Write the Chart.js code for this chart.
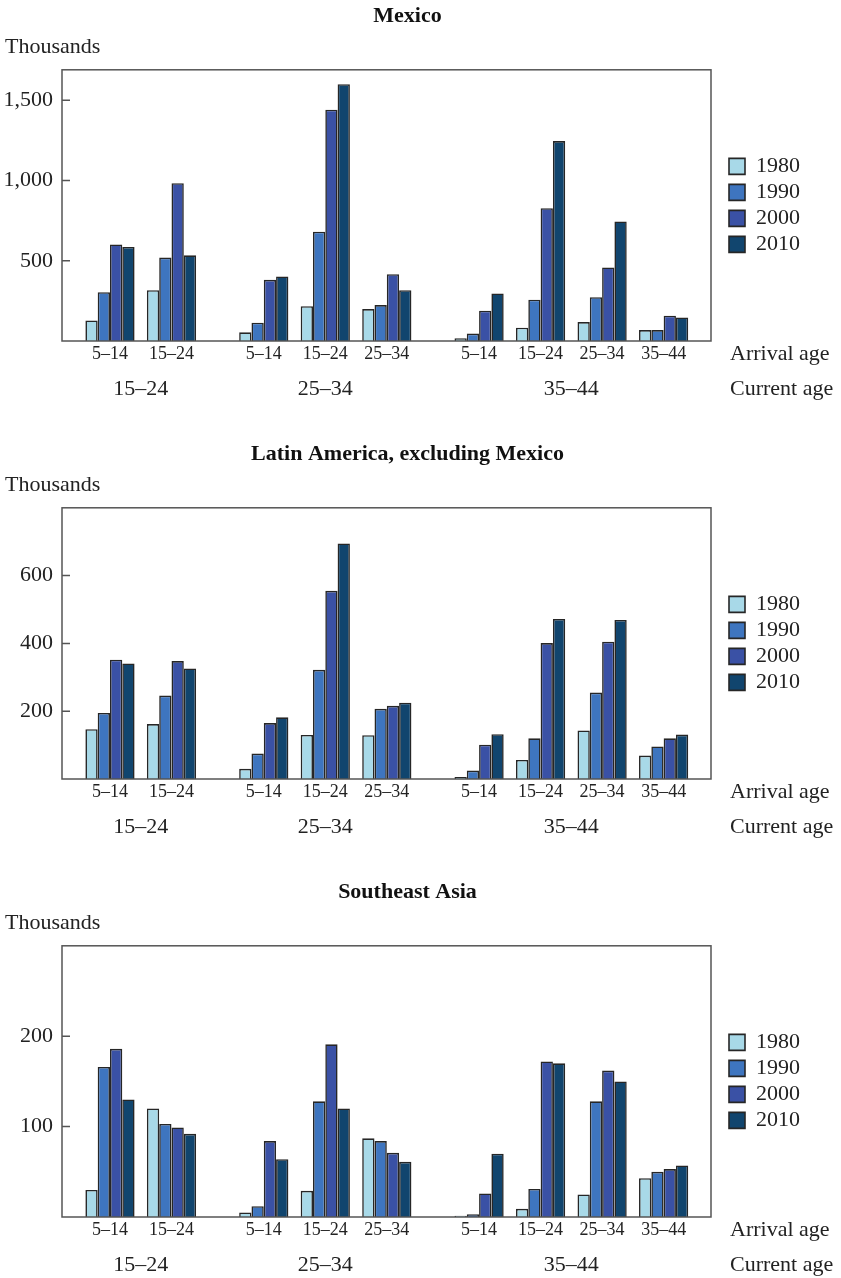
<!DOCTYPE html>
<html>
<head>
<meta charset="utf-8">
<script src="https://cdn.jsdelivr.net/npm/chart.js@4.4.1/dist/chart.umd.min.js"></script>
<style>
  body { margin: 0; background: #fff; }
  .panel { position: absolute; left: 0; width: 841px; height: 402px; }
</style>
</head>
<body>
<div class="panel" style="top:0"><canvas id="mexico"></canvas></div>
<div class="panel" style="top:438px"><canvas id="latam"></canvas></div>
<div class="panel" style="top:876px"><canvas id="asia"></canvas></div>
<script>
// categories
const years = ["1980", "1990", "2000", "2010"];
const arrivalAge = ["5–14", "15–24", "5–14", "15–24", "25–34", "5–14", "15–24", "25–34", "35–44"];
const currentAge = ["15–24", "25–34", "35–44"];

// slot layout on the x scale (groups are separated by half a slot)
const arrivalSlot = [0, 1, 2.5, 3.5, 4.5, 6, 7, 8, 9];
const currentSlot = [0.5, 3.5, 7.5];

// values, thousands
const mexico1980 = [128, 317, 54, 217, 199, 17, 83, 118, 68];
const mexico1990 = [304, 520, 114, 681, 224, 46, 257, 273, 68];
const mexico2000 = [602, 983, 381, 1441, 416, 189, 828, 458, 158];
const mexico2010 = [586, 534, 402, 1600, 317, 296, 1246, 745, 147];
const mexicoTicks = [500, 1000, 1500];

const latam1980 = [147, 162, 30, 130, 129, 6, 56, 143, 69];
const latam1990 = [195, 246, 75, 322, 207, 25, 120, 255, 96];
const latam2000 = [352, 348, 165, 555, 216, 101, 401, 405, 120];
const latam2010 = [341, 326, 182, 695, 225, 132, 472, 469, 131];
const latamTicks = [200, 400, 600];

const asia1980 = [30, 120, 5, 29, 87, 1.5, 9, 25, 43];
const asia1990 = [166, 103, 12, 128, 84, 3, 31, 128, 50];
const asia2000 = [186, 99, 84, 191, 71, 26, 172, 162, 53];
const asia2010 = [130, 92, 64, 120, 61, 70, 170, 150, 57];
const asiaTicks = [100, 200];

const colors = ["#a8d9e8", "#3e75bf", "#3a51a5", "#11456e"];

Chart.defaults.font.family = "'Liberation Serif', 'Times New Roman', serif";
Chart.defaults.color = "#222";

// box round the plot, inward y ticks, row captions on the right
const frame = {
  id: "frame",
  afterDraw(chart) {
    const { ctx, chartArea: a } = chart;
    const y = chart.scales.y;
    ctx.save();
    ctx.strokeStyle = "#555";
    ctx.lineWidth = 1.5;
    ctx.strokeRect(a.left, a.top, a.right - a.left, a.bottom - a.top);
    ctx.beginPath();
    y.ticks.forEach(t => {
      const py = y.getPixelForValue(t.value);
      ctx.moveTo(a.left, py);
      ctx.lineTo(a.left + 8, py);
    });
    ctx.stroke();
    ctx.fillStyle = "#222";
    ctx.font = "22px 'Liberation Serif'";
    ctx.textBaseline = "middle";
    ctx.fillText("Arrival age", a.right + 19, a.bottom + 13);
    ctx.fillText("Current age", a.right + 19, a.bottom + 48);
    ctx.restore();
  }
};

function makeChart(id, title, series, yMax, yTicks) {
  return new Chart(document.getElementById(id), {
    type: "bar",
    data: {
      datasets: series.map((vals, k) => ({
        label: years[k],
        data: vals.map((v, i) => ({ x: arrivalSlot[i], y: v })),
        backgroundColor: colors[k],
        borderColor: "#262626",
        borderWidth: 1.6,
        categoryPercentage: 0.8,
        barPercentage: 1,
        xAxisID: "x",
        yAxisID: "y"
      }))
    },
    options: {
      responsive: true,
      maintainAspectRatio: false,
      animation: false,
      layout: { padding: { left: 5, right: 31, top: 0, bottom: 0 } },
      plugins: {
        title: {
          display: true,
          text: title,
          color: "#111",
          font: { size: 22, weight: "bold" },
          padding: { top: 3, bottom: 4 }
        },
        subtitle: {
          display: true,
          text: "Thousands",
          align: "start",
          color: "#222",
          font: { size: 22 },
          padding: { top: 1, bottom: 9 }
        },
        legend: {
          position: "right",
          fullSize: false,
          labels: { boxWidth: 16, boxHeight: 16, padding: 4, font: { size: 22 }, color: "#222" }
        },
        tooltip: { enabled: false }
      },
      scales: {
        x: {
          type: "linear",
          min: -0.78,
          max: 9.77,
          offset: false,
          weight: 1,
          grid: { display: false, drawTicks: false },
          border: { display: false },
          afterBuildTicks: s => { s.ticks = arrivalSlot.map(v => ({ value: v })); },
          afterFit: s => { s.height = 24; },
          ticks: {
            autoSkip: false,
            maxRotation: 0,
            padding: 2,
            font: { size: 18 },
            callback: (v, i) => arrivalAge[i]
          }
        },
        x2: {
          type: "linear",
          position: "bottom",
          min: -0.78,
          max: 9.77,
          offset: false,
          weight: 2,
          grid: { display: false, drawTicks: false },
          border: { display: false },
          afterBuildTicks: s => { s.ticks = currentSlot.map(v => ({ value: v })); },
          afterFit: s => { s.height = 37; },
          ticks: {
            autoSkip: false,
            maxRotation: 0,
            padding: 11,
            font: { size: 22 },
            callback: (v, i) => currentAge[i]
          }
        },
        y: {
          min: 0,
          max: yMax,
          grid: { display: false, drawTicks: false },
          border: { display: false },
          afterBuildTicks: s => { s.ticks = yTicks.map(v => ({ value: v })); },
          afterFit: s => { s.width = 57; },
          ticks: {
            padding: 9,
            font: { size: 22 },
            callback: v => v.toLocaleString("en-US")
          }
        },
        y2: {
          type: "linear",
          position: "right",
          grid: { display: false, drawTicks: false },
          border: { display: false },
          ticks: { display: false },
          afterFit: s => { s.width = 14; }
        }
      }
    },
    plugins: [frame]
  });
}

makeChart("mexico", "Mexico", [mexico1980, mexico1990, mexico2000, mexico2010], 1690, mexicoTicks);
makeChart("latam", "Latin America, excluding Mexico", [latam1980, latam1990, latam2000, latam2010], 800, latamTicks);
makeChart("asia", "Southeast Asia", [asia1980, asia1990, asia2000, asia2010], 300, asiaTicks);
</script>
</body>
</html>
